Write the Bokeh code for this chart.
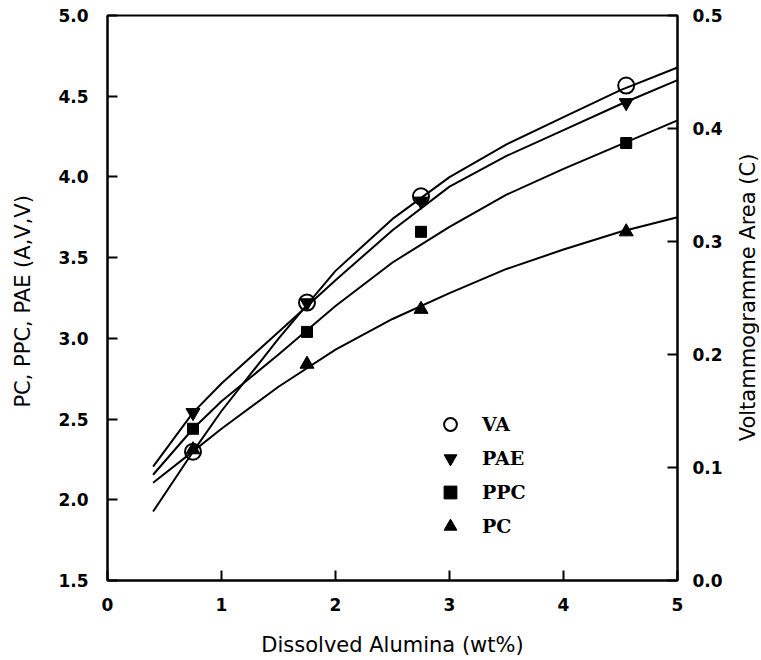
import math
from bokeh.plotting import figure
from bokeh.layouts import row
from bokeh.models import (Range1d, LinearAxis, SingleIntervalTicker, NumeralTickFormatter,
                          Legend, LegendItem, Label)
from bokeh.embed import file_html
from bokeh.resources import INLINE

# ---- data ----
pts_x = [0.75, 1.75, 2.75, 4.55]
va_pts = [0.114, 0.246, 0.340, 0.438]      # right axis (C)
pae_pts = [2.54, 3.22, 3.85, 4.46]
ppc_pts = [2.44, 3.04, 3.66, 4.21]
pc_pts = [2.31, 2.84, 3.18, 3.66]

curve_x = [0.4, 0.75, 1.0, 1.5, 2.0, 2.5, 3.0, 3.5, 4.0, 4.5, 5.0]
va_curve = [0.061, 0.114, 0.150, 0.214, 0.274, 0.320, 0.357, 0.386, 0.410, 0.434, 0.454]
pae_curve = [2.205, 2.54, 2.72, 3.04, 3.36, 3.67, 3.94, 4.13, 4.29, 4.45, 4.60]
ppc_curve = [2.155, 2.44, 2.61, 2.90, 3.20, 3.47, 3.69, 3.89, 4.05, 4.20, 4.35]
pc_curve = [2.106, 2.30, 2.44, 2.70, 2.93, 3.12, 3.28, 3.43, 3.55, 3.66, 3.75]

series_names = ["VA", "PAE", "PPC", "PC"]
right_title = "Voltammogramme Area (C)"

TICK_FONT = "DejaVu Sans"
p = figure(width=730, height=660, output_backend="svg", toolbar_location=None,
           x_range=Range1d(0, 5), y_range=Range1d(1.5, 5.0),
           min_border_left=107, min_border_right=53, min_border_top=15, min_border_bottom=80)
p.extra_y_ranges = {"right": Range1d(0, 0.5)}
p.grid.visible = False
p.outline_line_color = "black"
p.outline_line_width = 2
p.background_fill_color = "white"
p.border_fill_color = "white"

def style_axis(ax, standoff):
    ax.axis_line_width = 2
    ax.axis_line_color = "black"
    ax.major_tick_in = 10
    ax.major_tick_out = 0
    ax.major_tick_line_width = 2
    ax.minor_tick_line_color = None
    ax.major_label_text_font = TICK_FONT
    ax.major_label_text_font_size = "17px"
    ax.major_label_text_font_style = "bold"
    ax.major_label_text_color = "black"
    ax.major_label_standoff = standoff
    ax.axis_label_text_font = TICK_FONT
    ax.axis_label_text_font_size = "21px"
    ax.axis_label_text_font_style = "normal"
    ax.axis_label_text_color = "black"

xa = p.xaxis[0]
xa.ticker = SingleIntervalTicker(interval=1)
xa.axis_label = "Dissolved Alumina (wt%)"
style_axis(xa, 13)
xa.axis_label_standoff = 19

ya = p.yaxis[0]
ya.ticker = SingleIntervalTicker(interval=0.5)
ya.formatter = NumeralTickFormatter(format="0.0")
ya.axis_label = "PC, PPC, PAE  (A,V,V)"
style_axis(ya, 15)
ya.axis_label_standoff = 20

# right axis: ticks and numbers
ra = LinearAxis(y_range_name="right")
ra.ticker = SingleIntervalTicker(interval=0.1)
ra.formatter = NumeralTickFormatter(format="0.0")
style_axis(ra, 11)
p.add_layout(ra, "right")

# ---- curves ----
p.line(curve_x, va_curve, y_range_name="right", line_color="black", line_width=2)
p.line(curve_x, pae_curve, line_color="black", line_width=2)
p.line(curve_x, ppc_curve, line_color="black", line_width=2)
p.line(curve_x, pc_curve, line_color="black", line_width=2)

# ---- markers ----
r_pc = p.scatter(pts_x, pc_pts, marker="triangle", size=14, fill_color="black", line_color="black")
r_ppc = p.scatter(pts_x, ppc_pts, marker="square", size=11, fill_color="black", line_color="black")
r_pae = p.scatter(pts_x, pae_pts, marker="inverted_triangle", size=14, fill_color="black", line_color="black")
r_va = p.scatter(pts_x, va_pts, y_range_name="right", marker="circle", size=16,
                 fill_color=None, line_color="black", line_width=2)

legend = Legend(items=[LegendItem(label=series_names[0], renderers=[r_va]),
                       LegendItem(label=series_names[1], renderers=[r_pae]),
                       LegendItem(label=series_names[2], renderers=[r_ppc]),
                       LegendItem(label=series_names[3], renderers=[r_pc])],
                location=(327, 38))
legend.glyph_width = 32
legend.glyph_height = 32
legend.label_height = 32
legend.spacing = 2
legend.padding = 0
legend.margin = 0
legend.label_standoff = 16
legend.border_line_color = None
legend.background_fill_alpha = 0
legend.label_text_font = "DejaVu Serif"
legend.label_text_font_style = "bold"
legend.label_text_font_size = "19px"
legend.label_text_color = "black"
p.add_layout(legend, "center")

# ---- right-hand title strip (text reads bottom-to-top) ----
t = figure(width=29, height=660, output_backend="svg", toolbar_location=None,
           x_range=Range1d(0, 1), y_range=Range1d(0, 1),
           min_border_left=0, min_border_right=0, min_border_top=0, min_border_bottom=0)
t.axis.visible = False
t.grid.visible = False
t.outline_line_color = None
t.background_fill_color = "white"
t.border_fill_color = "white"
t.add_layout(Label(x=17, y=283, x_units="screen", y_units="screen", text=right_title,
                   angle=math.pi / 2, text_align="center", text_baseline="middle",
                   text_font=TICK_FONT, text_font_size="21px", text_color="black"))

layout = row(p, t, spacing=0)
open("out.html", "w").write(file_html(layout, INLINE))
